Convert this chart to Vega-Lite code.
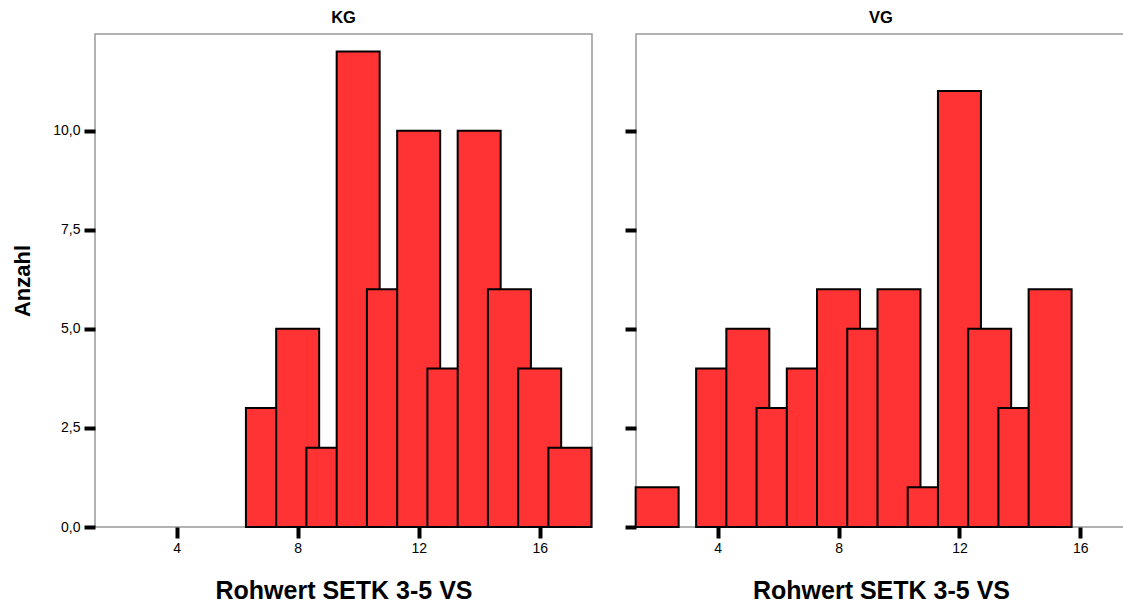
{
  "$schema": "https://vega.github.io/schema/vega-lite/v6.json",
  "padding": {"left": 11, "top": 8, "right": 0, "bottom": 0},
  "spacing": 28,
  "config": {
    "font": "Liberation Sans",
    "view": {"stroke": "#999999", "strokeWidth": 1.5},
    "axis": {
      "grid": false,
      "domain": false,
      "tickColor": "black",
      "tickWidth": 4,
      "tickSize": 11,
      "labelFont": "Liberation Sans",
      "labelFontSize": 14,
      "labelColor": "black",
      "titleColor": "black",
      "titleFont": "Liberation Sans",
      "titleFontWeight": "bold"
    }
  },
  "datasets": {
    "kg": [
      {"wert": 7, "anzahl": 3},
      {"wert": 8, "anzahl": 5},
      {"wert": 9, "anzahl": 2},
      {"wert": 10, "anzahl": 12},
      {"wert": 11, "anzahl": 6},
      {"wert": 12, "anzahl": 10},
      {"wert": 13, "anzahl": 4},
      {"wert": 14, "anzahl": 10},
      {"wert": 15, "anzahl": 6},
      {"wert": 16, "anzahl": 4},
      {"wert": 17, "anzahl": 2}
    ],
    "vg": [
      {"wert": 2, "anzahl": 1},
      {"wert": 4, "anzahl": 4},
      {"wert": 5, "anzahl": 5},
      {"wert": 6, "anzahl": 3},
      {"wert": 7, "anzahl": 4},
      {"wert": 8, "anzahl": 6},
      {"wert": 9, "anzahl": 5},
      {"wert": 10, "anzahl": 6},
      {"wert": 11, "anzahl": 1},
      {"wert": 12, "anzahl": 11},
      {"wert": 13, "anzahl": 5},
      {"wert": 14, "anzahl": 3},
      {"wert": 15, "anzahl": 6}
    ]
  },
  "hconcat": [
    {
      "title": {"text": "KG", "fontSize": 16.5, "fontWeight": "bold", "color": "black", "font": "Liberation Sans", "offset": 8},
      "width": 497,
      "height": 493,
      "data": {"name": "kg"},
      "mark": {"type": "bar", "fill": "#FF3333", "stroke": "black", "strokeWidth": 2, "width": 43},
      "encoding": {
        "x": {
          "field": "wert", "type": "quantitative",
          "scale": {"domain": [1.3, 17.73], "nice": false, "zero": false, "padding": 0},
          "axis": {"values": [4, 8, 12, 16], "title": "Rohwert SETK 3-5 VS", "titleFontSize": 25, "titlePadding": 23, "labelPadding": 3}
        },
        "y": {
          "field": "anzahl", "type": "quantitative",
          "scale": {"domain": [0, 12.44], "nice": false, "padding": 0},
          "axis": {"values": [0, 2.5, 5, 7.5, 10], "labelExpr": "replace(format(datum.value, '.1f'), '.', ',')", "title": "Anzahl", "titleFontSize": 22, "titlePadding": 18, "labelPadding": 4}
        }
      }
    },
    {
      "title": {"text": "VG", "fontSize": 16.5, "fontWeight": "bold", "color": "black", "font": "Liberation Sans", "offset": 8},
      "width": 490,
      "height": 493,
      "data": {"name": "vg"},
      "mark": {"type": "bar", "fill": "#FF3333", "stroke": "black", "strokeWidth": 2, "width": 43},
      "encoding": {
        "x": {
          "field": "wert", "type": "quantitative",
          "scale": {"domain": [1.3, 17.51], "nice": false, "zero": false, "padding": 0},
          "axis": {"values": [4, 8, 12, 16], "title": "Rohwert SETK 3-5 VS", "titleFontSize": 25, "titlePadding": 23, "labelPadding": 3}
        },
        "y": {
          "field": "anzahl", "type": "quantitative",
          "scale": {"domain": [0, 12.44], "nice": false, "padding": 0},
          "axis": {"values": [0, 2.5, 5, 7.5, 10], "labels": false, "title": null}
        }
      }
    }
  ]
}
